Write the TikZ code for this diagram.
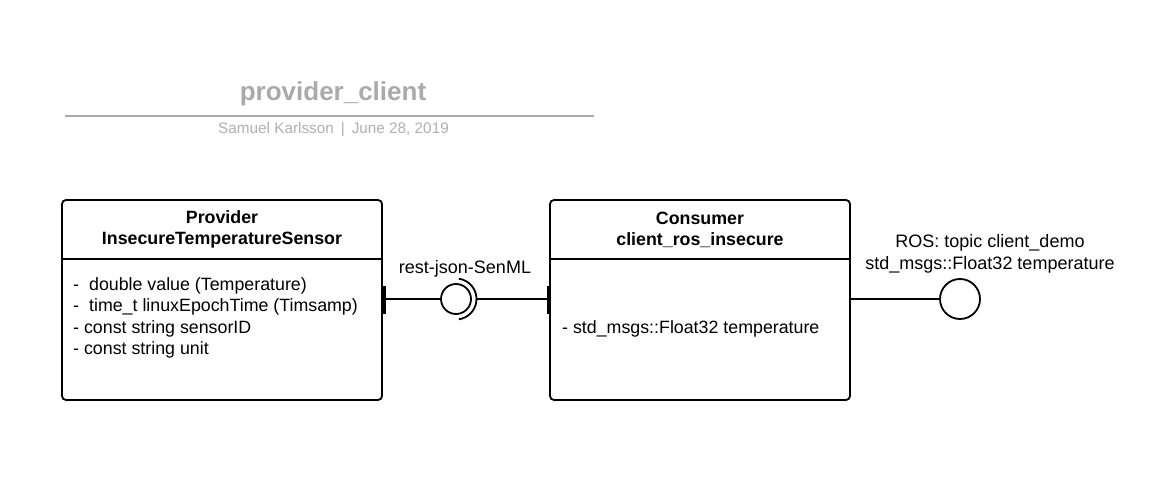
\documentclass[tikz,border=0pt]{standalone}
\usepackage{fontspec}
\setmainfont{Liberation Sans}
\begin{document}
\begin{tikzpicture}[x=1pt,y=-1pt,
  box/.style={draw, line width=1.8pt, rounded corners=4pt, inner sep=0pt},
  wire/.style={line width=1.8pt},
  bar/.style={line width=3pt},
  hdr/.style={font=\fontsize{17.8}{21}\selectfont\bfseries, align=center, inner sep=0pt},
  attr/.style={font=\fontsize{17.8}{21}\selectfont, anchor=base west, inner sep=0pt},
  lbl/.style={font=\fontsize{18}{22}\selectfont, align=center, inner sep=0pt}]
\definecolor{titlegray}{HTML}{AAAAAA}
\definecolor{subgray}{HTML}{B0B0B0}
\useasboundingbox[fill=white] (0,0) rectangle (1171,489);
% title block
\node[font=\fontsize{26}{30}\selectfont\bfseries, text=titlegray, inner sep=0pt] (title) at (333,94) {provider\_client};
\coordinate (tl) at (65,116);
\coordinate (tr) at (594,116);
\draw[titlegray, line width=2pt] (tl) -- (tr);
\node[font=\fontsize{15.3}{18}\selectfont, text=subgray, inner sep=0pt] (sub) at (333.5,129.5) {Samuel Karlsson\hspace{7pt}|\hspace{7pt}June 28, 2019};
% provider
\node[box, minimum width=320pt, minimum height=200pt] (prov) at (222,300) {};
\node[hdr] (provh) at (222,229.5) {Provider\\InsecureTemperatureSensor};
\draw[wire] (prov.west |- 0,259) -- (prov.east |- 0,259);
\node[attr] (a1) at (73,290.5) {-\hspace{10pt}double value (Temperature)};
\node[attr] (a2) at (73,312) {-\hspace{10pt}time\_t linuxEpochTime (Timsamp)};
\node[attr] (a3) at (73,333.5) {- const string sensorID};
\node[attr] (a4) at (73,355) {- const string unit};
% consumer
\node[box, minimum width=300pt, minimum height=200pt] (cons) at (700,300) {};
\node[hdr] (consh) at (700,229.5) {Consumer\\client\_ros\_insecure};
\draw[wire] (cons.west |- 0,259) -- (cons.east |- 0,259);
\node[attr] (c1) at (562,333.5) {- std\_msgs::Float32 temperature};
% socket / ball interface
\node[circle, draw, line width=1.8pt, minimum size=30pt, inner sep=0pt] (ball) at (456,299) {};
\draw[wire] (ball.center) ++(-82:20.5) arc[start angle=-82, end angle=82, radius=20.5];
\coordinate (sockR) at (476.5,299);
\draw[wire] (prov.east |- ball.west) -- (ball.west);
\draw[wire] (sockR) -- (cons.west |- sockR);
\draw[bar] (384,286) -- (384,314);
\draw[bar] (548.5,286) -- (548.5,314);
\node[lbl] (restl) at (465,269) {rest-json-SenML};
% ROS lollipop
\node[circle, draw, line width=1.8pt, minimum size=40pt, inner sep=0pt] (ros) at (960,299) {};
\draw[wire] (cons.east |- ros.west) -- (ros.west);
\node[lbl] (rosl) at (990,254) {ROS: topic client\_demo\\std\_msgs::Float32 temperature};
\end{tikzpicture}
\end{document}
